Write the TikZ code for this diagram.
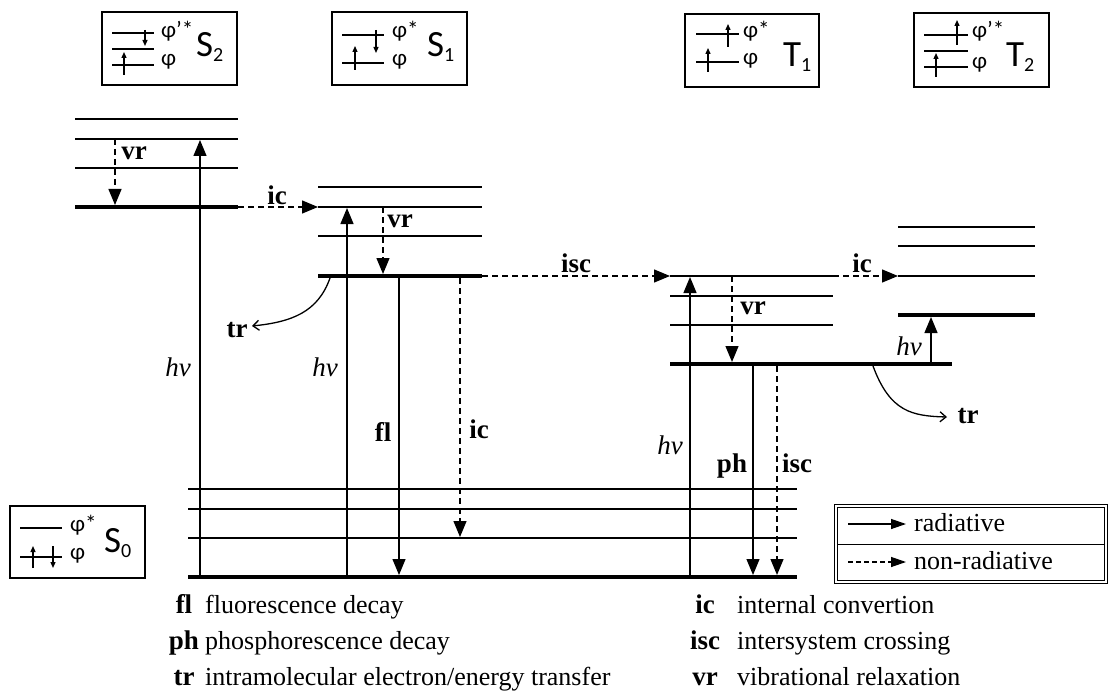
\documentclass[tikz,border=0pt]{standalone}
\usepackage{fontspec}
\setmainfont{Liberation Serif}
\newfontfamily\boxfont{Carlito}
\usetikzlibrary{arrows.meta}
\begin{document}
\begin{tikzpicture}[x=1pt,y=-1pt,
  lvl/.style={line width=2pt},
  gnd/.style={line width=4.5pt},
  rad/.style={line width=1.3pt,-{Triangle[length=16pt,width=13pt]}},
  nrad/.style={rad,dash pattern=on 6pt off 4pt},
  trarr/.style={line width=1.3pt,-{Straight Barb[length=6pt,width=10pt]}},
  lab/.style={font=\fontsize{27}{30}\selectfont\bfseries,inner sep=0pt},
  hnu/.style={font=\fontsize{27}{30}\selectfont\itshape,inner sep=0pt},
  desc/.style={font=\fontsize{26}{30}\selectfont,inner sep=0pt,anchor=base west},
  key/.style={font=\fontsize{27}{30}\selectfont\bfseries,inner sep=0pt,anchor=base},
  sbox/.style={line width=1.6pt},
  orb/.style={line width=1.3pt},
  sarr/.style={line width=1.3pt,-{Triangle[length=6pt,width=5pt]}},
  phi/.style={font=\boxfont\fontsize{23}{23}\selectfont,inner sep=0pt,anchor=west},
  stname/.style={font=\boxfont\fontsize{37}{37}\selectfont,inner sep=0pt,anchor=base west},
]
\useasboundingbox (0,0) rectangle (1110,695);
\newcommand{\sub}[1]{\fontsize{20}{20}\selectfont\raisebox{-5pt}{#1}}

% ---------- energy levels ----------
% S2
\foreach \y in {119,139,168} \draw[lvl] (75,\y) -- (238,\y);
\draw[gnd] (75,207) coordinate (s2l) -- (238,207) coordinate (s2r);
% S1
\foreach \y in {187,207,236} \draw[lvl] (318,\y) -- (482,\y);
\draw[gnd] (318,276) coordinate (s1l) -- (482,276) coordinate (s1r);
% T1
\foreach \y in {276,296,325} \draw[lvl] (670,\y) -- (833,\y);
\draw[gnd] (670,364) -- (952,364);
% T2
\foreach \y in {227,246,276} \draw[lvl] (898,\y) -- (1035,\y);
\draw[gnd] (898,315) -- (1035,315);
% S0
\foreach \y in {489,509,538} \draw[lvl] (188,\y) -- (797,\y);
\draw[gnd] (188,577) -- (797,577);

% ---------- coordinates ----------
\coordinate (a1) at (115,139); \coordinate (a1e) at (115,205);
\coordinate (h1s) at (200,575); \coordinate (h1e) at (200,140);
\coordinate (ic1s) at (238,207); \coordinate (ic1e) at (318,207);
\coordinate (h2s) at (347,575); \coordinate (h2e) at (347,208);
\coordinate (v2s) at (383,207); \coordinate (v2e) at (383,274);
\coordinate (fls) at (399,278); \coordinate (fle) at (399,575);
\coordinate (ic2s) at (460,278); \coordinate (ic2e) at (460,537);
\coordinate (iscs) at (482,276); \coordinate (isce) at (670,276);
\coordinate (h3s) at (690,575); \coordinate (h3e) at (690,277);
\coordinate (v3s) at (732,276); \coordinate (v3e) at (732,362);
\coordinate (phs) at (753,366); \coordinate (phe) at (753,575);
\coordinate (isc2s) at (777,366); \coordinate (isc2e) at (777,575);
\coordinate (ic3s) at (833,276); \coordinate (ic3e) at (898,276);
\coordinate (h4s) at (931,362); \coordinate (h4e) at (931,317);
\coordinate (tr1s) at (330,278); \coordinate (tr1e) at (252,326);
\coordinate (tr2s) at (873,366); \coordinate (tr2e) at (947,417);

% ---------- transitions ----------
\draw[nrad] (a1) -- (a1e);
\draw[rad] (h1s) -- (h1e);
\draw[nrad] (ic1s) -- (ic1e);
\draw[rad] (h2s) -- (h2e);
\draw[nrad] (v2s) -- (v2e);
\draw[rad] (fls) -- (fle);
\draw[nrad] (ic2s) -- (ic2e);
\draw[nrad] (iscs) -- (isce);
\draw[rad] (h3s) -- (h3e);
\draw[nrad] (v3s) -- (v3e);
\draw[rad] (phs) -- (phe);
\draw[nrad] (isc2s) -- (isc2e);
\draw[nrad] (ic3s) -- (ic3e);
\draw[rad] (h4s) -- (h4e);
\draw[trarr] (tr1s) .. controls (318,312) and (292,322) .. (tr1e);
\draw[trarr] (tr2s) .. controls (890,412) and (912,416) .. (tr2e);

% ---------- labels ----------
\node[lab] (lvr1) at (134,153) {vr};
\node[lab] (lic1) at (277,195) {ic};
\node[lab] (lvr2) at (400,221) {vr};
\node[lab] (lisc1) at (576,263) {isc};
\node[lab] (lvr3) at (753,308) {vr};
\node[lab] (lic3) at (862,263) {ic};
\node[lab] (lfl) at (383,432) {fl};
\node[lab] (lic2) at (479,429) {ic};
\node[lab] (lph) at (732,466) {ph};
\node[lab] (lisc2) at (797,463) {isc};
\node[lab] (ltr1) at (237,330) {tr};
\node[lab] (ltr2) at (968,416) {tr};
\node[hnu] (lh1) at (178,367) {hν};
\node[hnu] (lh2) at (325,367) {hν};
\node[hnu] (lh3) at (670,445) {hν};
\node[hnu] (lh4) at (909,346) {hν};

% ---------- orbital boxes ----------
% S2
\draw[sbox] (102,12) rectangle (237,85);
\draw[orb] (112,33) -- (154,33);
\draw[orb] (112,49) -- (154,49);
\draw[orb] (112,65) -- (154,65);
\draw[sarr] (145,30) -- (145,46);
\draw[sarr] (124,75) -- (124,52);
\node[phi] (p2a) at (161,31) {φ’*};
\node[phi] (p2b) at (161,62) {φ};
\node[stname] (ns2) at (196,57) {S\sub{2}};
% S1
\draw[sbox] (332,12) rectangle (467,85);
\draw[orb] (342,35) -- (384,35);
\draw[orb] (342,63) -- (384,63);
\draw[sarr] (355,70) -- (355,46);
\draw[sarr] (376,30) -- (376,53);
\node[phi] (p1a) at (392,31) {φ*};
\node[phi] (p1b) at (392,62) {φ};
\node[stname] (ns1) at (427,57) {S\sub{1}};
% T1
\draw[sbox] (685,14) rectangle (819,87);
\draw[orb] (696,34) -- (739,34);
\draw[orb] (696,62) -- (739,62);
\draw[sarr] (708,72) -- (708,48);
\draw[sarr] (728,47) -- (728,24);
\node[phi] (pt1a) at (743,31) {φ*};
\node[phi] (pt1b) at (743,61) {φ};
\node[stname] (nt1) at (783,67) {T\sub{1}};
% T2
\draw[sbox] (914,13) rectangle (1049,87);
\draw[orb] (924,35) -- (968,35);
\draw[orb] (924,51) -- (968,51);
\draw[orb] (924,67) -- (968,67);
\draw[sarr] (957,45) -- (957,20);
\draw[sarr] (936,77) -- (936,53);
\node[phi] (pt2a) at (972,31) {φ’*};
\node[phi] (pt2b) at (972,65) {φ};
\node[stname] (nt2) at (1006,67) {T\sub{2}};
% S0
\draw[sbox] (10,506) rectangle (145,578);
\draw[orb] (20,528) -- (62,528);
\draw[orb] (20,557) -- (62,557);
\draw[sarr] (33,568) -- (33,546);
\draw[sarr] (53,546) -- (53,568);
\node[phi] (p0a) at (70,525) {φ*};
\node[phi] (p0b) at (70,556) {φ};
\node[stname] (ns0) at (104,552) {S\sub{0}};

% ---------- legend box ----------
\draw[line width=1pt,double distance=2pt] (836,506) rectangle (1106,582);
\draw[line width=1pt] (838,544) -- (1104,544);
\coordinate (lg1s) at (848,524); \coordinate (lg1e) at (906,524);
\coordinate (lg2s) at (848,562); \coordinate (lg2e) at (906,562);
\draw[line width=1.3pt,-{Triangle[length=15pt,width=10pt]}] (lg1s) -- (lg1e);
\draw[line width=1.3pt,dash pattern=on 5pt off 3pt,-{Triangle[length=15pt,width=10pt]}] (lg2s) -- (lg2e);
\node[desc] (lgrad) at (914,531) {radiative};
\node[desc] (lgnon) at (914,569) {non-radiative};

% ---------- bottom legend ----------
\node[key] (kfl) at (184,613) {fl};
\node[desc] (dfl) at (205,613) {fluorescence decay};
\node[key] (kph) at (184,649) {ph};
\node[desc] (dph) at (205,649) {phosphorescence decay};
\node[key] (ktr) at (184,685) {tr};
\node[desc] (dtr) at (205,685) {intramolecular electron/energy transfer};
\node[key] (kic) at (705,613) {ic};
\node[desc] (dic) at (737,613) {internal convertion};
\node[key] (kisc) at (705,649) {isc};
\node[desc] (disc) at (737,649) {intersystem crossing};
\node[key] (kvr) at (705,685) {vr};
\node[desc] (dvr) at (737,685) {vibrational relaxation};
\end{tikzpicture}
\end{document}
